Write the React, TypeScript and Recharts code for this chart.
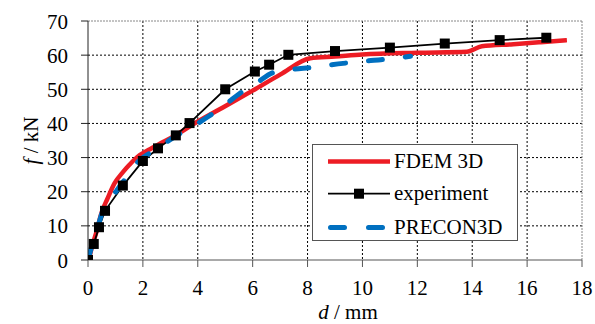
import React, { useLayoutEffect, useEffect, useRef } from "react";
import {
  LineChart,
  Line,
  XAxis,
  YAxis,
  CartesianGrid,
  ReferenceLine,
  Legend,
  Label,
} from "recharts";

const xTicks = [0, 2, 4, 6, 8, 10, 12, 14, 16, 18];
const yTicks = [0, 10, 20, 30, 40, 50, 60, 70];

const fdem3d = [
  { d: 0, f: 0 },
  { d: 0.06, f: 1.2 },
  { d: 0.15, f: 4 },
  { d: 0.3, f: 8 },
  { d: 0.5, f: 14 },
  { d: 0.7, f: 17.8 },
  { d: 0.97, f: 22.5 },
  { d: 1.28, f: 25.8 },
  { d: 1.5, f: 27.8 },
  { d: 1.8, f: 30.2 },
  { d: 2.2, f: 32.2 },
  { d: 2.6, f: 34 },
  { d: 3.0, f: 35.7 },
  { d: 3.35, f: 37.3 },
  { d: 3.8, f: 39.6 },
  { d: 4.9, f: 44.6 },
  { d: 6.0, f: 49.6 },
  { d: 7.0, f: 54.3 },
  { d: 8.1, f: 59.1 },
  { d: 9.0, f: 59.6 },
  { d: 10, f: 60.2 },
  { d: 12, f: 60.7 },
  { d: 13.8, f: 61.0 },
  { d: 14.35, f: 62.6 },
  { d: 15.5, f: 63.2 },
  { d: 16.5, f: 63.8 },
  { d: 17.45, f: 64.4 },
];

const experiment = [
  { d: 0, f: 0 },
  { d: 0.21, f: 4.7 },
  { d: 0.4, f: 9.6 },
  { d: 0.62, f: 14.4 },
  { d: 1.27, f: 21.8 },
  { d: 2.0, f: 29.0 },
  { d: 2.55, f: 32.7 },
  { d: 3.2, f: 36.5 },
  { d: 3.7, f: 40.1 },
  { d: 5.0, f: 50.0 },
  { d: 6.08, f: 55.2 },
  { d: 6.6, f: 57.2 },
  { d: 7.3, f: 60.1 },
  { d: 9.0, f: 61.2 },
  { d: 11.0, f: 62.2 },
  { d: 13.0, f: 63.4 },
  { d: 15.0, f: 64.4 },
  { d: 16.7, f: 65.1 },
];

const precon3d = [
  { d: 0, f: 0 },
  { d: 0.1, f: 3 },
  { d: 0.2, f: 6 },
  { d: 0.33, f: 8.8 },
  { d: 0.5, f: 13.5 },
  { d: 0.69, f: 16.1 },
  { d: 1.06, f: 20.5 },
  { d: 1.42, f: 24.4 },
  { d: 1.85, f: 29.0 },
  { d: 2.45, f: 32.2 },
  { d: 3.1, f: 35.8 },
  { d: 3.77, f: 38.9 },
  { d: 4.4, f: 42.1 },
  { d: 5.0, f: 45.5 },
  { d: 5.55, f: 48.9 },
  { d: 6.15, f: 51.9 },
  { d: 6.75, f: 54.9 },
  { d: 7.48, f: 55.9 },
  { d: 8.15, f: 56.4 },
  { d: 8.88, f: 57.2 },
  { d: 9.67, f: 57.9 },
  { d: 10.3, f: 58.4 },
  { d: 11.0, f: 58.9 },
  { d: 11.75, f: 59.7 },
];

const seriesNames = ["FDEM 3D", "experiment", "PRECON3D"];

const RED = "#ED1C24";
const BLUE = "#0070C0";
const FONT = '"Liberation Serif", "Times New Roman", serif';

const gridY = yTicks.filter((v) => v > 0 && v < 70);
const gridX = xTicks.filter((v) => v > 0 && v < 18);

const SquareDot = (props: any) => {
  const { cx, cy } = props;
  if (cx == null || cy == null) return null;
  return <rect x={cx - 5} y={cy - 5} width={10} height={10} fill="#000" />;
};

const AxisTick = (props: any) => {
  const { x, y, payload, textAnchor, verticalAnchor } = props;
  const dy = verticalAnchor === "start" ? 15 : 7.5;
  return (
    <text
      x={x}
      y={y}
      dy={dy}
      textAnchor={textAnchor}
      fill="#000"
      fontFamily={FONT}
      fontSize={21}
      style={{ fontFamily: FONT, fontSize: 21 }}
    >
      {payload.value}
    </text>
  );
};

const LegendBox = () => {
  const rows = [0, 1, 2];
  const centers = [16.5, 48.7, 82.5];
  return (
    <div
      style={{
        position: "relative",
        width: 206,
        height: 97,
        border: "1px solid #555",
        background: "#fff",
        boxSizing: "border-box",
        fontFamily: FONT,
        fontSize: 21,
        color: "#000",
      }}
    >
      <svg
        width={80}
        height={97}
        style={{ position: "absolute", left: 0, top: 0 }}
      >
        <line x1={15} x2={77} y1={centers[0]} y2={centers[0]} stroke={RED} strokeWidth={4.5} />
        <line x1={15} x2={77} y1={centers[1]} y2={centers[1]} stroke="#000" strokeWidth={1.8} />
        <rect x={41} y={centers[1] - 5} width={10} height={10} fill="#000" />
        <line
          x1={17.5}
          x2={75}
          y1={centers[2]}
          y2={centers[2]}
          stroke={BLUE}
          strokeWidth={5}
          strokeLinecap="round"
          strokeDasharray="14 24"
        />
      </svg>
      {rows.map((i) => (
        <div
          key={i}
          style={{
            position: "absolute",
            left: 81,
            top: centers[i] - 12.5,
            height: 24,
            lineHeight: "24px",
            whiteSpace: "nowrap",
            fontFamily: FONT,
            fontSize: 21,
          }}
        >
          {seriesNames[i]}
        </div>
      ))}
    </div>
  );
};

const XTitle = (props: any) => {
  const vb = props.viewBox || { x: 88, width: 494 };
  return (
    <text
      x={vb.x + vb.width / 2 + 13}
      y={319}
      textAnchor="middle"
      fontFamily={FONT}
      style={{ fontFamily: FONT, fontSize: 21 }}
      fill="#000"
    >
      <tspan fontStyle="italic">d</tspan>
      <tspan> / mm</tspan>
    </text>
  );
};

const YTitle = (props: any) => {
  const vb = props.viewBox || { y: 21, height: 239 };
  const cy = vb.y + vb.height / 2;
  return (
    <text
      x={38}
      y={cy}
      transform={`rotate(-90, 38, ${cy})`}
      textAnchor="middle"
      fontFamily={FONT}
      style={{ fontFamily: FONT, fontSize: 21 }}
      fill="#000"
    >
      <tspan fontStyle="italic">f</tspan>
      <tspan> / kN</tspan>
    </text>
  );
};

export default function App() {
  const ref = useRef<HTMLDivElement | null>(null);
  const applyFont = () => {
    try {
      const el = ref.current;
      if (!el) return;
      el.querySelectorAll("text, tspan, div").forEach((n: any) => {
        if (n && n.style) n.style.setProperty("font-family", FONT, "important");
      });
    } catch (e) {
      /* ignore */
    }
  };
  useLayoutEffect(applyFont);
  useEffect(() => {
    applyFont();
    const t = setTimeout(applyFont, 50);
    return () => clearTimeout(t);
  });
  return (
    <div
      ref={ref}
      style={{ position: "absolute", left: 0, top: 0, width: 595, height: 324, background: "#fff", fontFamily: FONT }}
    >
      <LineChart
        width={595}
        height={324}
        margin={{ top: 21, right: 13, left: 0, bottom: 0 }}
        style={{ fontFamily: FONT }}
      >
        <CartesianGrid
          stroke="#000"
          strokeDasharray="2 2"
          strokeWidth={1}
          horizontalValues={gridY}
          verticalValues={gridX}
        />
        <ReferenceLine y={70} stroke="#888" strokeDasharray="2 1" strokeWidth={1} />
        <ReferenceLine x={18} stroke="#888" strokeDasharray="2 1" strokeWidth={1} />
        <XAxis
          dataKey="d"
          type="number"
          domain={[0, 18]}
          ticks={xTicks}
          allowDataOverflow
          height={64}
          tickSize={7}
          tickMargin={13}
          stroke="#555"
          tick={<AxisTick />}
          interval={0}
        >
          <Label content={<XTitle />} />
        </XAxis>
        <YAxis
          dataKey="f"
          type="number"
          domain={[0, 70]}
          ticks={yTicks}
          allowDataOverflow
          width={88}
          tickSize={7}
          tickMargin={13}
          stroke="#222"
          tick={<AxisTick />}
          interval={0}
        >
          <Label content={<YTitle />} />
        </YAxis>
        <Line
          data={fdem3d}
          dataKey="f"
          name={seriesNames[0]}
          type="monotone"
          stroke={RED}
          strokeWidth={4.5}
          dot={false}
          activeDot={false}
          isAnimationActive={false}
        />
        <Line
          data={experiment}
          dataKey="f"
          name={seriesNames[1]}
          type="linear"
          stroke="#000"
          strokeWidth={1.8}
          dot={<SquareDot />}
          activeDot={false}
          isAnimationActive={false}
        />
        <Line
          data={precon3d}
          dataKey="f"
          name={seriesNames[2]}
          type="monotone"
          stroke={BLUE}
          strokeWidth={5}
          strokeLinecap="round"
          strokeDasharray="14 23"
          dot={false}
          activeDot={false}
          isAnimationActive={false}
        />
        <Legend
          layout="horizontal"
          verticalAlign="middle"
          align="center"
          wrapperStyle={{ position: "absolute", left: 312, top: 144, width: 206, height: 97, margin: 0, padding: 0 }}
          content={() => <LegendBox />}
        />
      </LineChart>
    </div>
  );
}
